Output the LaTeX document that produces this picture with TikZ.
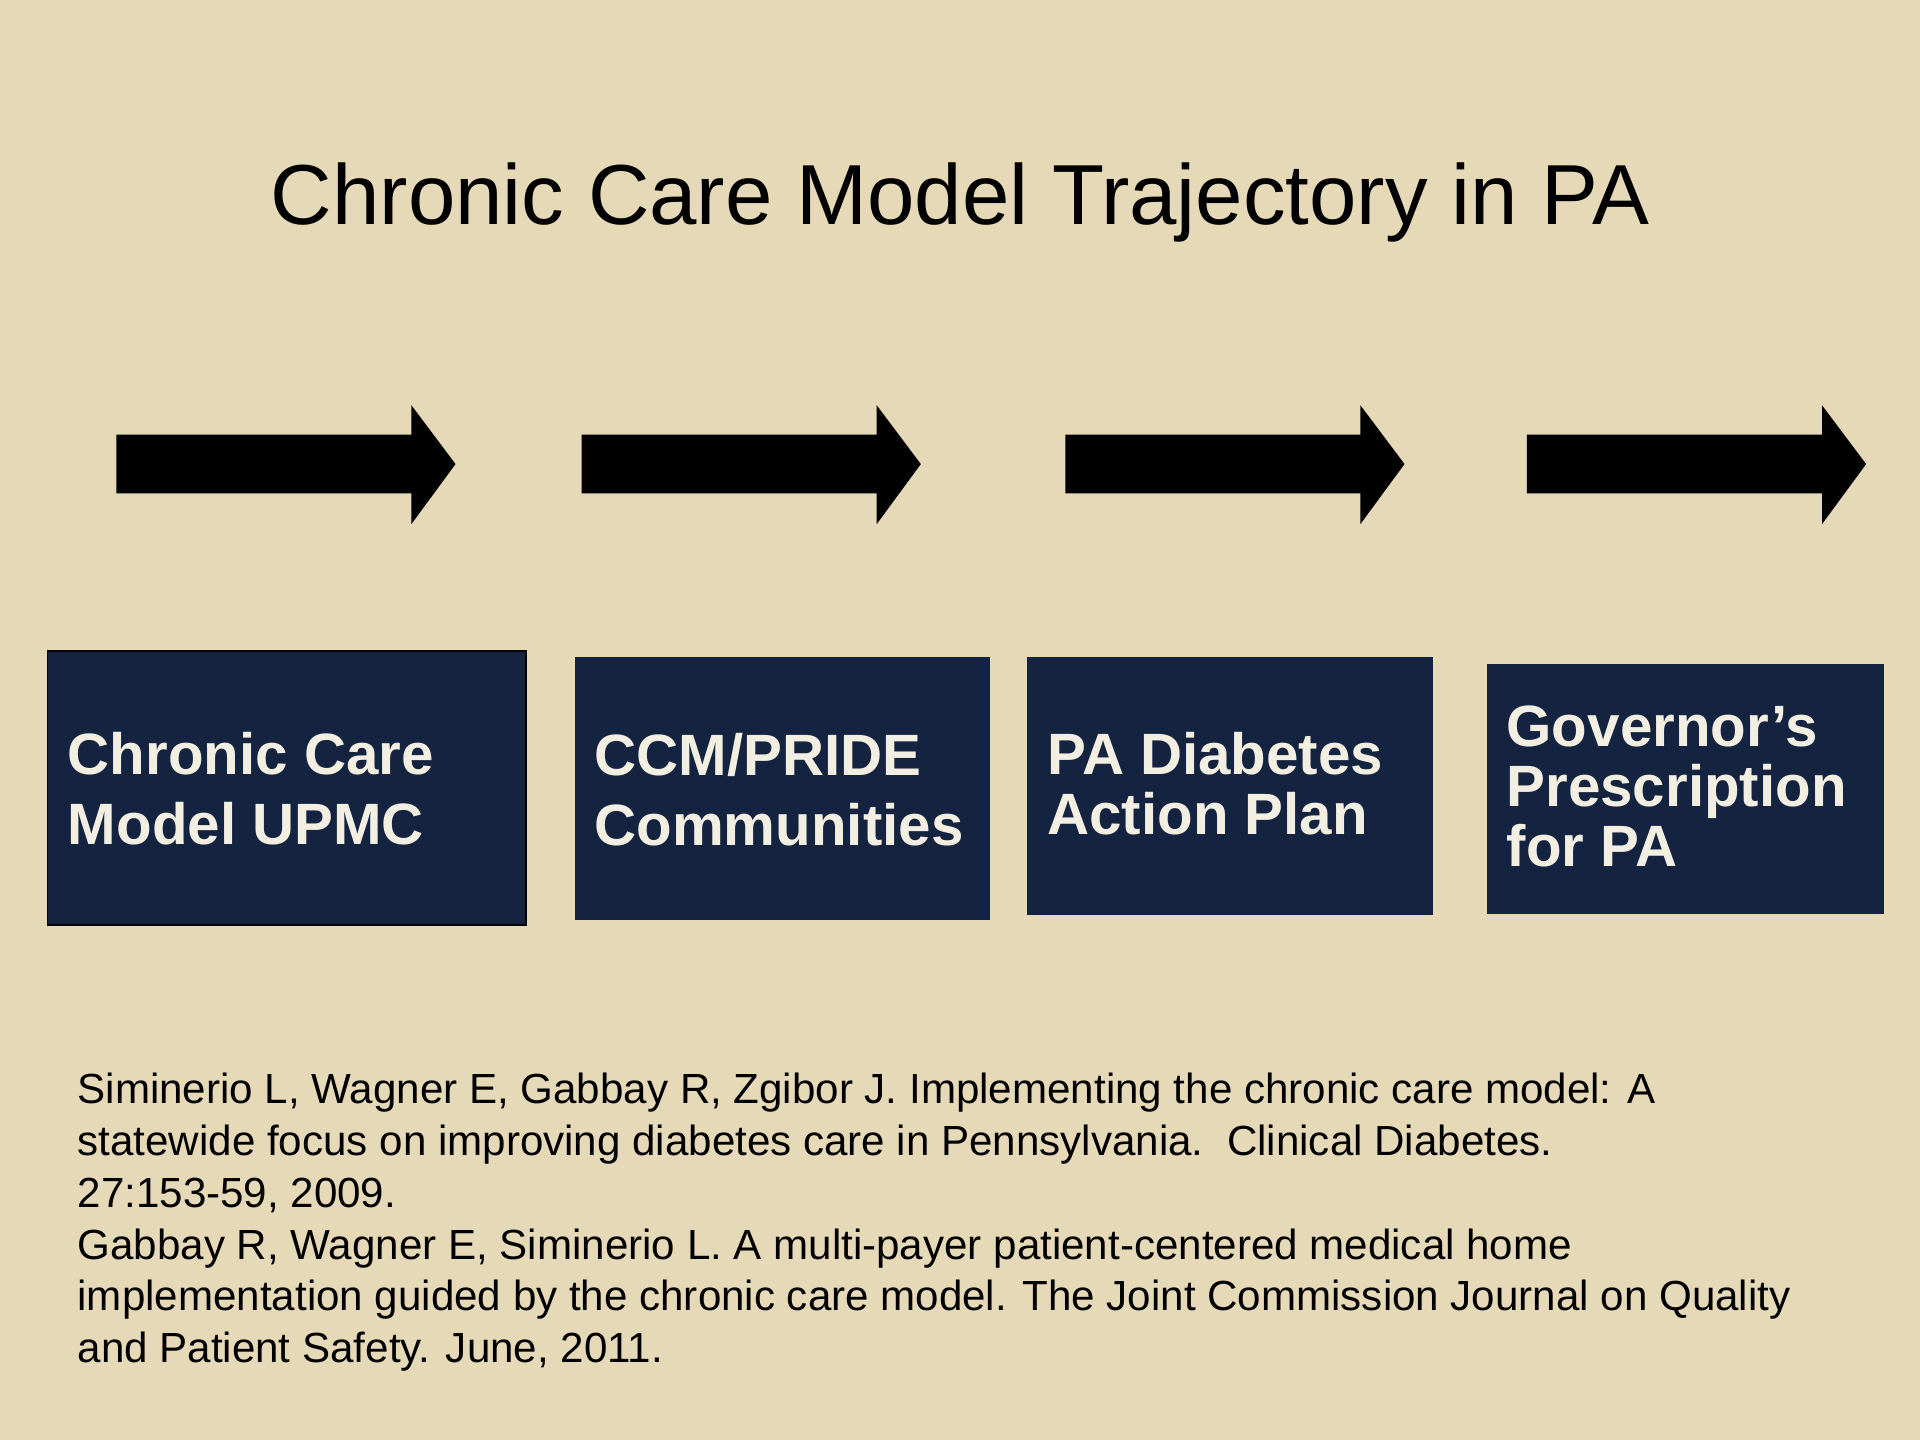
\documentclass[tikz,border=0pt]{standalone}
\usepackage{fontspec}
\setmainfont{Liberation Sans}
\definecolor{bg}{HTML}{E6D9B8}
\definecolor{navy}{HTML}{132340}
\definecolor{boxtext}{HTML}{F2EEE2}
\begin{document}
\begin{tikzpicture}[x=0.5pt,y=-0.5pt,
  stepbox/.style={fill=navy,draw=none,anchor=north west,inner sep=0pt},
  boxlabel/.style={anchor=west,align=left,text=boxtext,inner sep=0pt,font=\bfseries\fontsize{23.8}{28.5}\selectfont},
  bigarrow/.style={fill=black,draw=none}]
\fill[bg] (0,0) rectangle (1568,1176);
\useasboundingbox (0,0) rectangle (1568,1176);
\node (title) [anchor=base,font=\fontsize{34.8}{40}\selectfont] at (784,183) {Chronic Care Model Trajectory in PA};
% arrows
\foreach \x/\n in {95/a1,475/a2,870/a3,1247/a4}{
  \fill[bigarrow] (\x,355) -- (\x+241,355) -- (\x+241,331) -- (\x+277,379) -- (\x+241,428) -- (\x+241,403) -- (\x,403) -- cycle;
  \coordinate (\n) at (\x,379);
}
% boxes
\node (b1) [stepbox,draw=black,line width=0.6pt,minimum width=391*0.5pt,minimum height=224*0.5pt] at (38,531) {};
\node (b2) [stepbox,minimum width=339*0.5pt,minimum height=215*0.5pt] at (469,536) {};
\node (b3) [stepbox,minimum width=332*0.5pt,minimum height=211*0.5pt] at (838,536) {};
\node (b4) [stepbox,minimum width=324*0.5pt,minimum height=204*0.5pt] at (1214,542) {};
\node (t1) [boxlabel] at (55,644) {Chronic Care\\Model UPMC};
\node (t2) [boxlabel] at (485,645) {CCM/PRIDE\\Communities};
\node (t3) [boxlabel,font=\bfseries\fontsize{23.8}{24.5}\selectfont] at (855,640) {PA Diabetes\\Action Plan};
\node (t4) [boxlabel,font=\bfseries\fontsize{23.8}{24.5}\selectfont] at (1230,642) {Governor’s\\Prescription\\for PA};
% reference
\node (ref) [anchor=north west,align=left,inner sep=0pt,font=\fontsize{17.2}{21.15}\selectfont] at (63,876) {Siminerio L, Wagner E, Gabbay R, Zgibor J. Implementing the chronic care model: A\\statewide focus on improving diabetes care in Pennsylvania.\ \ Clinical Diabetes.\\27:153-59, 2009.\\Gabbay R, Wagner E, Siminerio L. A multi-payer patient-centered medical home\\implementation guided by the chronic care model. The Joint Commission Journal on Quality\\and Patient Safety. June, 2011.};
\end{tikzpicture}
\end{document}
